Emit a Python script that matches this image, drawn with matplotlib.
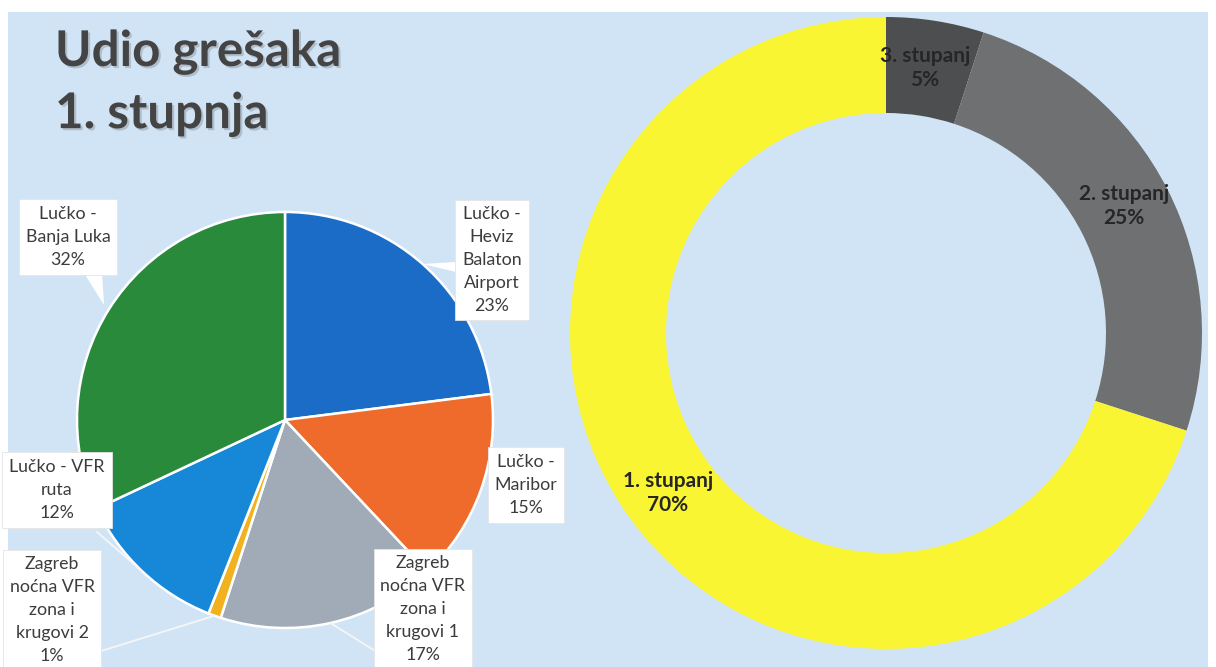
import numpy as np
import matplotlib.pyplot as plt
from matplotlib import patheffects as pe
from matplotlib.patches import Polygon, Rectangle

W, H = 1216, 667

title_text = "Udio grešaka\n1. stupnja"

pie_labels = ["Lučko -\nHeviz\nBalaton\nAirport", "Lučko -\nMaribor",
              "Zagreb\nnoćna VFR\nzona i\nkrugovi 1", "Zagreb\nnoćna VFR\nzona i\nkrugovi 2",
              "Lučko - VFR\nruta", "Lučko -\nBanja Luka"]
pie_values = [23, 15, 17, 1, 12, 32]
pie_colors = ["#1b6cc6", "#ee6b2b", "#a1abb7", "#f2b21f", "#1787d8", "#2a8a3b"]

ring_labels = ["3. stupanj", "2. stupanj", "1. stupanj"]
ring_values = [5, 25, 70]
ring_colors = ["#4d4e50", "#6f7072", "#f9f532"]

# label box centres (image pixels, y from top)
pie_label_pos = [(492, 260), (526, 485), (423, 609), (52, 610), (57, 490), (68, 237)]
ring_label_pos = [(925, 68), (1124, 206), (668, 493)]

plt.rcParams['font.family'] = ['Lato', 'DejaVu Sans']

fig = plt.figure(figsize=(W / 100, H / 100), dpi=100, facecolor="white")
ax = fig.add_axes([0, 0, 1, 1])

# slide background
ax.add_patch(Rectangle((8, 0), 1200, H - 12, facecolor="#d1e4f5", edgecolor="none", zorder=0))

# title
ax.text(55, H - 29, title_text, fontsize=35.5, fontweight='bold', color="#444444",
        va='top', ha='left', linespacing=1.45,
        path_effects=[pe.withSimplePatchShadow(offset=(1.5, -1.5), shadow_rgbFace="#9aa4ae", alpha=0.6)])

# left pie
pc = (285, H - 420)
pr = 208
wedges, _ = ax.pie(pie_values, colors=pie_colors, startangle=90, counterclock=False,
                   center=pc, radius=pr, frame=True,
                   wedgeprops=dict(edgecolor="white", linewidth=1.8))


def img(p):
    return (p[0], H - p[1])


for w, lab, val, pos in zip(wedges, pie_labels, pie_values, pie_label_pos):
    mid = np.deg2rad((w.theta1 + w.theta2) / 2)
    ax_pt = (pc[0] + pr * np.cos(mid), pc[1] + pr * np.sin(mid))
    bx, by = img(pos)
    if lab.endswith("Banja Luka"):
        tip = (pc[0] + pr * 1.03 * np.cos(mid), pc[1] + pr * 1.03 * np.sin(mid))
        ax.add_patch(Polygon([(bx + 16, by - 36), (bx + 34, by - 36), tip],
                             closed=True, facecolor="white", edgecolor="none", zorder=4))
    elif lab.startswith("Lučko -\nHeviz"):
        ax.add_patch(Polygon([(bx - 36, by - 2), (bx - 36, by - 12), ax_pt],
                             closed=True, facecolor="white", edgecolor="none", zorder=4))
    elif lab.startswith("Lučko -\nMaribor"):
        pass
    else:
        if lab.endswith("1"):
            end = (bx - 38, by - 48)
        elif lab.endswith("2"):
            end = (bx + 46, by - 42)
        else:
            end = (bx + 40, by - 42)
        ax.plot([ax_pt[0], end[0]], [ax_pt[1], end[1]], color="#f6f6f6", lw=1.3, zorder=4)
    ax.text(bx, by, f"{lab}\n{val}%",
            ha='center', va='center', multialignment='center', fontsize=12.8,
            color="#3c3c3c", linespacing=1.52, zorder=5,
            bbox=dict(boxstyle="square,pad=0.38", facecolor="white", edgecolor="#e4e4e4", linewidth=0.6))

# donut
rc = (886, H - 333)
rr = 316
ax.pie(ring_values, colors=ring_colors, startangle=90, counterclock=False,
       center=rc, radius=rr, frame=True,
       wedgeprops=dict(width=96, edgecolor="none"))

for lab, val, pos in zip(ring_labels, ring_values, ring_label_pos):
    x, y = img(pos)
    ax.text(x, y, f"{lab}\n{val}%", ha='center', va='center', fontsize=15,
            fontweight='bold', color="#262626", linespacing=1.2, zorder=5)

ax.set_xlim(0, W)
ax.set_ylim(0, H)
ax.axis('off')

fig.savefig("out.png", dpi=100, facecolor="white")
